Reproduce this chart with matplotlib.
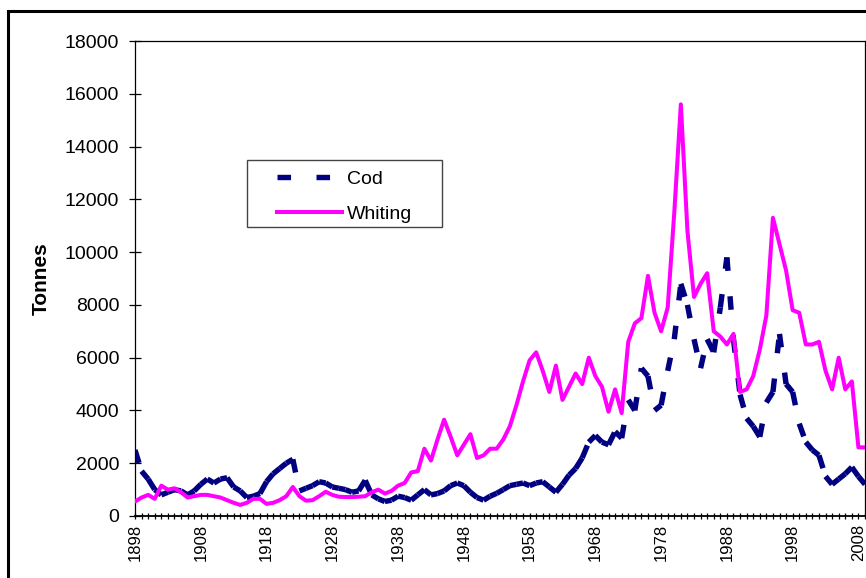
""" Cod and whiting landings, 1898-2009. """

import numpy as np
from matplotlib import pyplot as plt
from matplotlib.collections import LineCollection
from matplotlib.lines import Line2D
from matplotlib.patches import Rectangle

plt.rcParams['font.family'] = ['Liberation Sans', 'DejaVu Sans']

# Data (tonnes per year)
years = np.arange(1898, 2010)
cod = [2500, 1700, 1400, 1000, 800, 900, 1000, 950, 800, 950,        # 1898-1907
       1200, 1400, 1250, 1400, 1450, 1100, 950, 700, 750, 850,       # 1908-1917
       1300, 1600, 1800, 2000, 2150, 950, 1050, 1150, 1300, 1250,    # 1918-1927
       1100, 1050, 1000, 900, 950, 1350, 800, 650, 550, 600,         # 1928-1937
       750, 700, 600, 800, 1000, 800, 850, 950, 1150, 1250,          # 1938-1947
       1150, 900, 700, 600, 750, 860, 1000, 1150, 1200, 1250,        # 1948-1957
       1150, 1250, 1300, 1100, 900, 1200, 1550, 1800, 2200, 2800,    # 1958-1967
       3050, 2800, 2700, 3200, 2950, 4400, 4000, 5600, 5300, 4000,   # 1968-1977
       4200, 5500, 6700, 8800, 8000, 6700, 5600, 6700, 6200, 7900,   # 1978-1987
       9800, 6700, 4600, 3700, 3400, 3000, 4300, 4700, 6900, 5000,   # 1988-1997
       4700, 3500, 2800, 2500, 2300, 1500, 1200, 1400, 1600, 1850,   # 1998-2007
       1500, 1200]                                                   # 2008-2009
whiting = [550, 700, 800, 650, 1150, 1000, 1050, 900, 700, 750,        # 1898-1907
           800, 800, 750, 700, 600, 500, 420, 500, 650, 650,           # 1908-1917
           460, 500, 600, 750, 1100, 750, 580, 600, 750, 920,          # 1918-1927
           800, 730, 720, 720, 730, 750, 900, 1000, 850, 950,          # 1928-1937
           1150, 1250, 1650, 1700, 2550, 2100, 2900, 3650, 3000, 2300, # 1938-1947
           2700, 3100, 2200, 2300, 2550, 2550, 2900, 3400, 4200, 5100, # 1948-1957
           5900, 6200, 5500, 4700, 5700, 4400, 4900, 5400, 5000, 6000, # 1958-1967
           5300, 4900, 3950, 4800, 3900, 6600, 7300, 7500, 9100, 7700, # 1968-1977
           7000, 7900, 11500, 15600, 10800, 8300, 8800, 9200, 7000, 6800,  # 1978-1987
           6500, 6900, 4700, 4800, 5300, 6300, 7600, 11300, 10300, 9300,   # 1988-1997
           7800, 7700, 6500, 6500, 6600, 5500, 4800, 6000, 4800, 5100,     # 1998-2007
           2600, 2600]                                                     # 2008-2009
label_years = np.arange(1898, 2010, 10)

cod_col = '#000080'
whit_col = '#FF00FF'
cod_dash = (0, (2.5, 4.7))

fig = plt.figure(figsize=(8.66, 5.78), dpi=100)
ax = fig.add_axes([135/866, 1 - 516/578, 730/866, 475/578])

# Whiting: plain line
ax.plot(years, whiting, color=whit_col, lw=2.9, solid_joinstyle='round',
        solid_capstyle='round', zorder=3)

# Cod: dashes restart on every yearly segment (as in the original)
pts = np.column_stack([years, cod])
segs = np.stack([pts[:-1], pts[1:]], axis=1)
lc = LineCollection(segs, colors=cod_col, linewidths=3.9,
                    linestyles=[cod_dash], capstyle='butt', zorder=2)
ax.add_collection(lc)

# Axes
ax.set_xlim(1898, 2009)
ax.set_ylim(0, 18000)
ax.set_yticks(np.arange(0, 18001, 2000))
ax.set_xticks(years)
ax.set_xticklabels([str(y) if y in label_years else '' for y in years],
                   rotation=90)
ax.tick_params(axis='y', direction='inout', length=8.5, width=0.9,
               labelsize=14, pad=7)
ax.tick_params(axis='x', direction='inout', length=5, width=0.9,
               labelsize=12, pad=3)
for sp in ax.spines.values():
    sp.set_linewidth(0.9)
ax.spines['bottom'].set_linewidth(1.3)
ax.set_ylabel('Tonnes', fontsize=15, fontweight='bold', labelpad=10)

# Legend
handles = [Line2D([], [], color=cod_col, lw=3.9, linestyle=cod_dash,
                  dash_capstyle='butt'),
           Line2D([], [], color=whit_col, lw=2.9)]
ax.legend(handles, ['Cod', 'Whiting'], loc='upper left',
          bbox_to_anchor=((277-135)/730, (516-170)/475), frameon=False,
          fontsize=14, handlelength=3.35, handletextpad=0.25,
          labelspacing=0.9, borderpad=0, borderaxespad=0)
ax.add_patch(Rectangle(((247-135)/730, (516-227)/475), 195/730, 67/475,
                       transform=ax.transAxes, fill=False, lw=1.0,
                       edgecolor='#444444', zorder=5))

# Chart area border (runs off the right/bottom of the image)
fig.add_artist(Rectangle((8/866, -0.05), 1.2, 1 - 11/578 + 0.05,
                         transform=fig.transFigure, fill=False, lw=2.2,
                         edgecolor='black'))

plt.savefig('out.png', dpi=100)
print('Saved: out.png')
